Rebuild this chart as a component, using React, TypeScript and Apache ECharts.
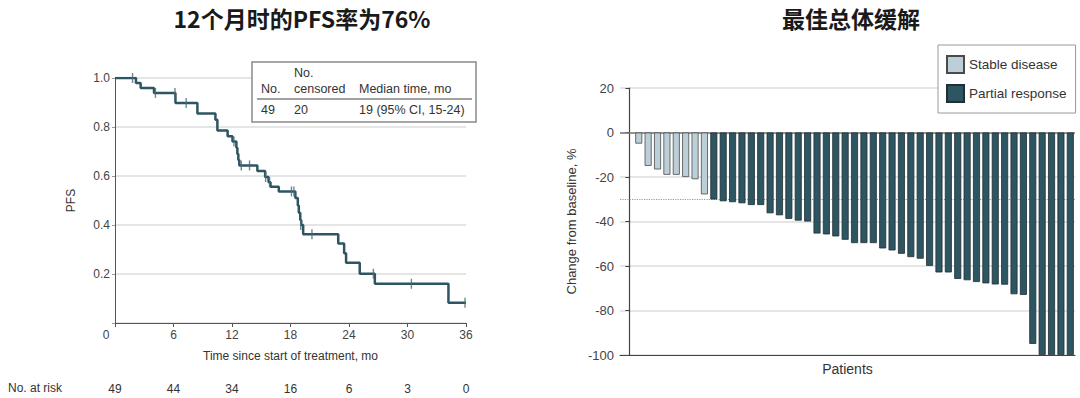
import React, { useEffect, useRef } from "react";
import * as echarts from "echarts";

// Kaplan-Meier PFS curve (time in months, survival proportion after the event)
const kmTimes = [0, 2.15, 2.63, 4.0, 6.2, 8.45, 10.3, 10.5, 11.55, 12.05, 12.45, 12.55, 12.65, 12.75, 14.6, 15.4, 15.75, 15.95, 16.8, 18.5, 18.75, 18.85, 19.0, 19.1, 19.3, 22.9, 23.5, 23.7, 25.1, 26.65, 34.2, 36];
const kmSurv = [1.0, 0.98, 0.959, 0.939, 0.898, 0.855, 0.83, 0.786, 0.762, 0.741, 0.715, 0.69, 0.665, 0.643, 0.62, 0.596, 0.575, 0.556, 0.537, 0.51, 0.48, 0.45, 0.42, 0.4, 0.362, 0.325, 0.285, 0.246, 0.201, 0.16, 0.083, 0.083];
// Censored observations
const censorTimes = [1.8, 4.15, 6.15, 7.3, 12.2, 12.95, 13.8, 15.45, 15.85, 18.1, 18.35, 19.05, 20.2, 26.5, 30.4, 35.9];
const censorSurv = [1.0, 0.939, 0.939, 0.898, 0.741, 0.643, 0.643, 0.596, 0.575, 0.537, 0.537, 0.4, 0.362, 0.201, 0.16, 0.083];
// Number at risk
const riskTimes = [0, 6, 12, 18, 24, 30, 36];
const riskCounts = [49, 44, 34, 16, 6, 3, 0];

// Waterfall: best change from baseline (%)
const stableValues = [-5, -15, -16.6, -19, -19, -20, -21, -27.8];
const partialValues = [-30.1, -30.9, -31.3, -31.8, -32.6, -32.6, -36.3, -37.2, -38.8, -39.6, -40, -45.4, -45.8, -46.7, -48.2, -49.7, -49.7, -49.7, -52.1, -53, -54.5, -56, -56.7, -59.9, -62.9, -62.9, -65.8, -66.4, -67.2, -67.8, -68.3, -68.4, -72.7, -73, -95, -100, -100, -100, -100];
const responseThreshold = -30;

const FONT = "'Liberation Sans', Arial, sans-serif";
const CJK = "'Noto Sans CJK SC', sans-serif";
const DARK = "#2e5562";
const LIGHT = "#bccfd8";

export default function App() {
  const ref = useRef<HTMLDivElement>(null);
  useEffect(() => {
    if (!ref.current) return;
    const chart = echarts.init(ref.current, undefined, { renderer: "svg" });
    const kmData = kmTimes.map((t, i) => [t, kmSurv[i]]);
    const censorData = censorTimes.map((t, i) => [t, censorSurv[i]]);
    const stableData = stableValues.map((v, i) => [i + 1, v]);
    const partialData = partialValues.map((v, i) => [i + 1 + stableValues.length, v]);

    chart.setOption({
      animation: false,
      textStyle: { fontFamily: FONT },
      grid: [
        { left: 115, top: 78, width: 351, height: 245 },
        { left: 620, top: 88, width: 455, height: 267 },
      ],
      xAxis: [
        {
          gridIndex: 0, type: "value", min: 0, max: 36, interval: 6,
          name: "Time since start of treatment, mo", nameLocation: "middle", nameGap: 27,
          nameTextStyle: { fontSize: 12, color: "#333", fontFamily: FONT },
          axisLine: { show: true, lineStyle: { color: "#555", width: 1 } },
          axisTick: { show: true, length: 4, lineStyle: { color: "#555" } },
          axisLabel: {
            fontSize: 12, color: "#444", margin: 6, fontFamily: FONT,
            formatter: (v: number) => (v === 0 ? "{z|0}" : String(v)),
            rich: { z: { fontSize: 12, color: "#444", fontFamily: FONT, padding: [0, 18, 0, 0] } },
          },
          splitLine: { show: false },
        },
        {
          gridIndex: 0, type: "value", min: 0, max: 36, interval: 6, position: "bottom", offset: 52,
          axisLine: { show: false }, axisTick: { show: false }, splitLine: { show: false },
          axisLabel: {
            fontSize: 12, color: "#333", fontFamily: FONT,
            formatter: (v: number) => { const k = riskTimes.indexOf(v); return k >= 0 ? String(riskCounts[k]) : ""; },
          },
        },
        {
          gridIndex: 1, type: "value", min: -1, max: 47.5,
          name: "Patients", nameLocation: "middle", nameGap: 7,
          nameTextStyle: { fontSize: 14, color: "#333", fontFamily: FONT },
          axisLine: { show: true, onZero: false, lineStyle: { color: "#444", width: 1.2 } },
          axisTick: { show: false }, axisLabel: { show: false }, splitLine: { show: false },
        },
      ],
      yAxis: [
        {
          gridIndex: 0, type: "value", min: 0, max: 1, interval: 0.2,
          name: "PFS", nameLocation: "middle", nameGap: 38,
          nameTextStyle: { fontSize: 12, color: "#333", fontFamily: FONT },
          axisLine: { show: true, lineStyle: { color: "#555", width: 1 } },
          axisTick: { show: true, length: 3, lineStyle: { color: "#999" } },
          axisLabel: { fontSize: 12, color: "#444", margin: 5, fontFamily: FONT, formatter: (v: number) => (v === 0 ? "" : v.toFixed(1)) },
          splitLine: { show: true, lineStyle: { color: "#dcdcdc", width: 1.5 } },
        },
        {
          gridIndex: 1, type: "value", min: -100, max: 20, interval: 20,
          name: "Change from baseline, %", nameLocation: "middle", nameGap: 42,
          nameTextStyle: { fontSize: 13, color: "#333", fontFamily: FONT },
          axisLine: { show: true, lineStyle: { color: "#444", width: 1.2 } },
          axisTick: { show: true, length: 4, lineStyle: { color: "#444" } },
          axisLabel: { fontSize: 13, color: "#444", margin: 6, fontFamily: FONT },
          splitLine: { show: true, lineStyle: { color: "#dcdcdc", width: 1.5 } },
        },
      ],
      legend: {
        left: 938, top: 45, orient: "vertical",
        padding: [10, 9, 10, 8], itemGap: 10, itemWidth: 17, itemHeight: 17,
        borderColor: "#9a9a9a", borderWidth: 1, backgroundColor: "#fff",
        textStyle: { fontSize: 13.5, color: "#333", fontFamily: FONT },
        data: ["Stable disease", "Partial response"],
        icon: "rect",
      },
      graphic: [
        { type: "text", x: 302, y: 18, z: 100, style: { text: "12个月时的PFS率为76%", fontSize: 23, fontWeight: "bold", fontFamily: CJK, fill: "#1a1a1a", align: "center", verticalAlign: "middle" } },
        { type: "text", x: 851, y: 18, z: 100, style: { text: "最佳总体缓解", fontSize: 23, fontWeight: "bold", fontFamily: CJK, fill: "#1a1a1a", align: "center", verticalAlign: "middle" } },
        { type: "rect", z: 100, shape: { x: 252, y: 62, width: 224, height: 60 }, style: { fill: "#fff", stroke: "#8a8a8a", lineWidth: 1.5 } },
        { type: "line", z: 101, shape: { x1: 257, y1: 99, x2: 472, y2: 99 }, style: { stroke: "#444", lineWidth: 1.2 } },
        { type: "text", x: 261, y: 89, z: 101, style: { text: "No.", fontSize: 12.5, fontFamily: FONT, fill: "#333", verticalAlign: "middle" } },
        { type: "text", x: 294, y: 73, z: 101, style: { text: "No.", fontSize: 12.5, fontFamily: FONT, fill: "#333", verticalAlign: "middle" } },
        { type: "text", x: 294, y: 89, z: 101, style: { text: "censored", fontSize: 12.5, fontFamily: FONT, fill: "#333", verticalAlign: "middle" } },
        { type: "text", x: 359, y: 89, z: 101, style: { text: "Median time, mo", fontSize: 12.5, fontFamily: FONT, fill: "#333", verticalAlign: "middle" } },
        { type: "text", x: 261, y: 110, z: 101, style: { text: "49", fontSize: 12.5, fontFamily: FONT, fill: "#333", verticalAlign: "middle" } },
        { type: "text", x: 294, y: 110, z: 101, style: { text: "20", fontSize: 12.5, fontFamily: FONT, fill: "#333", verticalAlign: "middle" } },
        { type: "text", x: 359, y: 110, z: 101, style: { text: "19 (95% CI, 15-24)", fontSize: 12.5, fontFamily: FONT, fill: "#333", verticalAlign: "middle" } },
        { type: "text", x: 8, y: 388, z: 100, style: { text: "No. at risk", fontSize: 12, fontFamily: FONT, fill: "#333", verticalAlign: "middle" } },
      ],
      series: [
        {
          type: "line", xAxisIndex: 0, yAxisIndex: 0, step: "end", data: kmData,
          showSymbol: false, symbol: "none",
          lineStyle: { color: DARK, width: 2.5 }, z: 3,
        },
        {
          type: "scatter", xAxisIndex: 0, yAxisIndex: 0, data: censorData,
          symbol: "rect", symbolSize: [1.4, 10], itemStyle: { color: "#4a6a76" }, z: 4,
        },
        {
          name: "Stable disease", type: "bar", xAxisIndex: 2, yAxisIndex: 1, data: stableData,
          barWidth: 7, barGap: "-100%",
          itemStyle: { color: LIGHT, borderColor: "#4a4a4a", borderWidth: 0.8 }, z: 2,
          markLine: {
            silent: true, symbol: "none", z: 1, label: { show: false },
            data: [
              { yAxis: 0, lineStyle: { color: "#777", width: 1.5, type: "solid" } },
              { yAxis: responseThreshold, lineStyle: { color: "#999", width: 1.2, type: "dotted" } },
            ],
          },
        },
        {
          name: "Partial response", type: "bar", xAxisIndex: 2, yAxisIndex: 1, data: partialData,
          barWidth: 7, barGap: "-100%",
          itemStyle: { color: DARK, borderColor: "#1f2f33", borderWidth: 0.8 }, z: 2,
        },
      ],
    });
    return () => chart.dispose();
  }, []);
  return <div ref={ref} style={{ position: "fixed", left: 0, top: 0, width: 1080, height: 398, background: "#fff" }} />;
}
